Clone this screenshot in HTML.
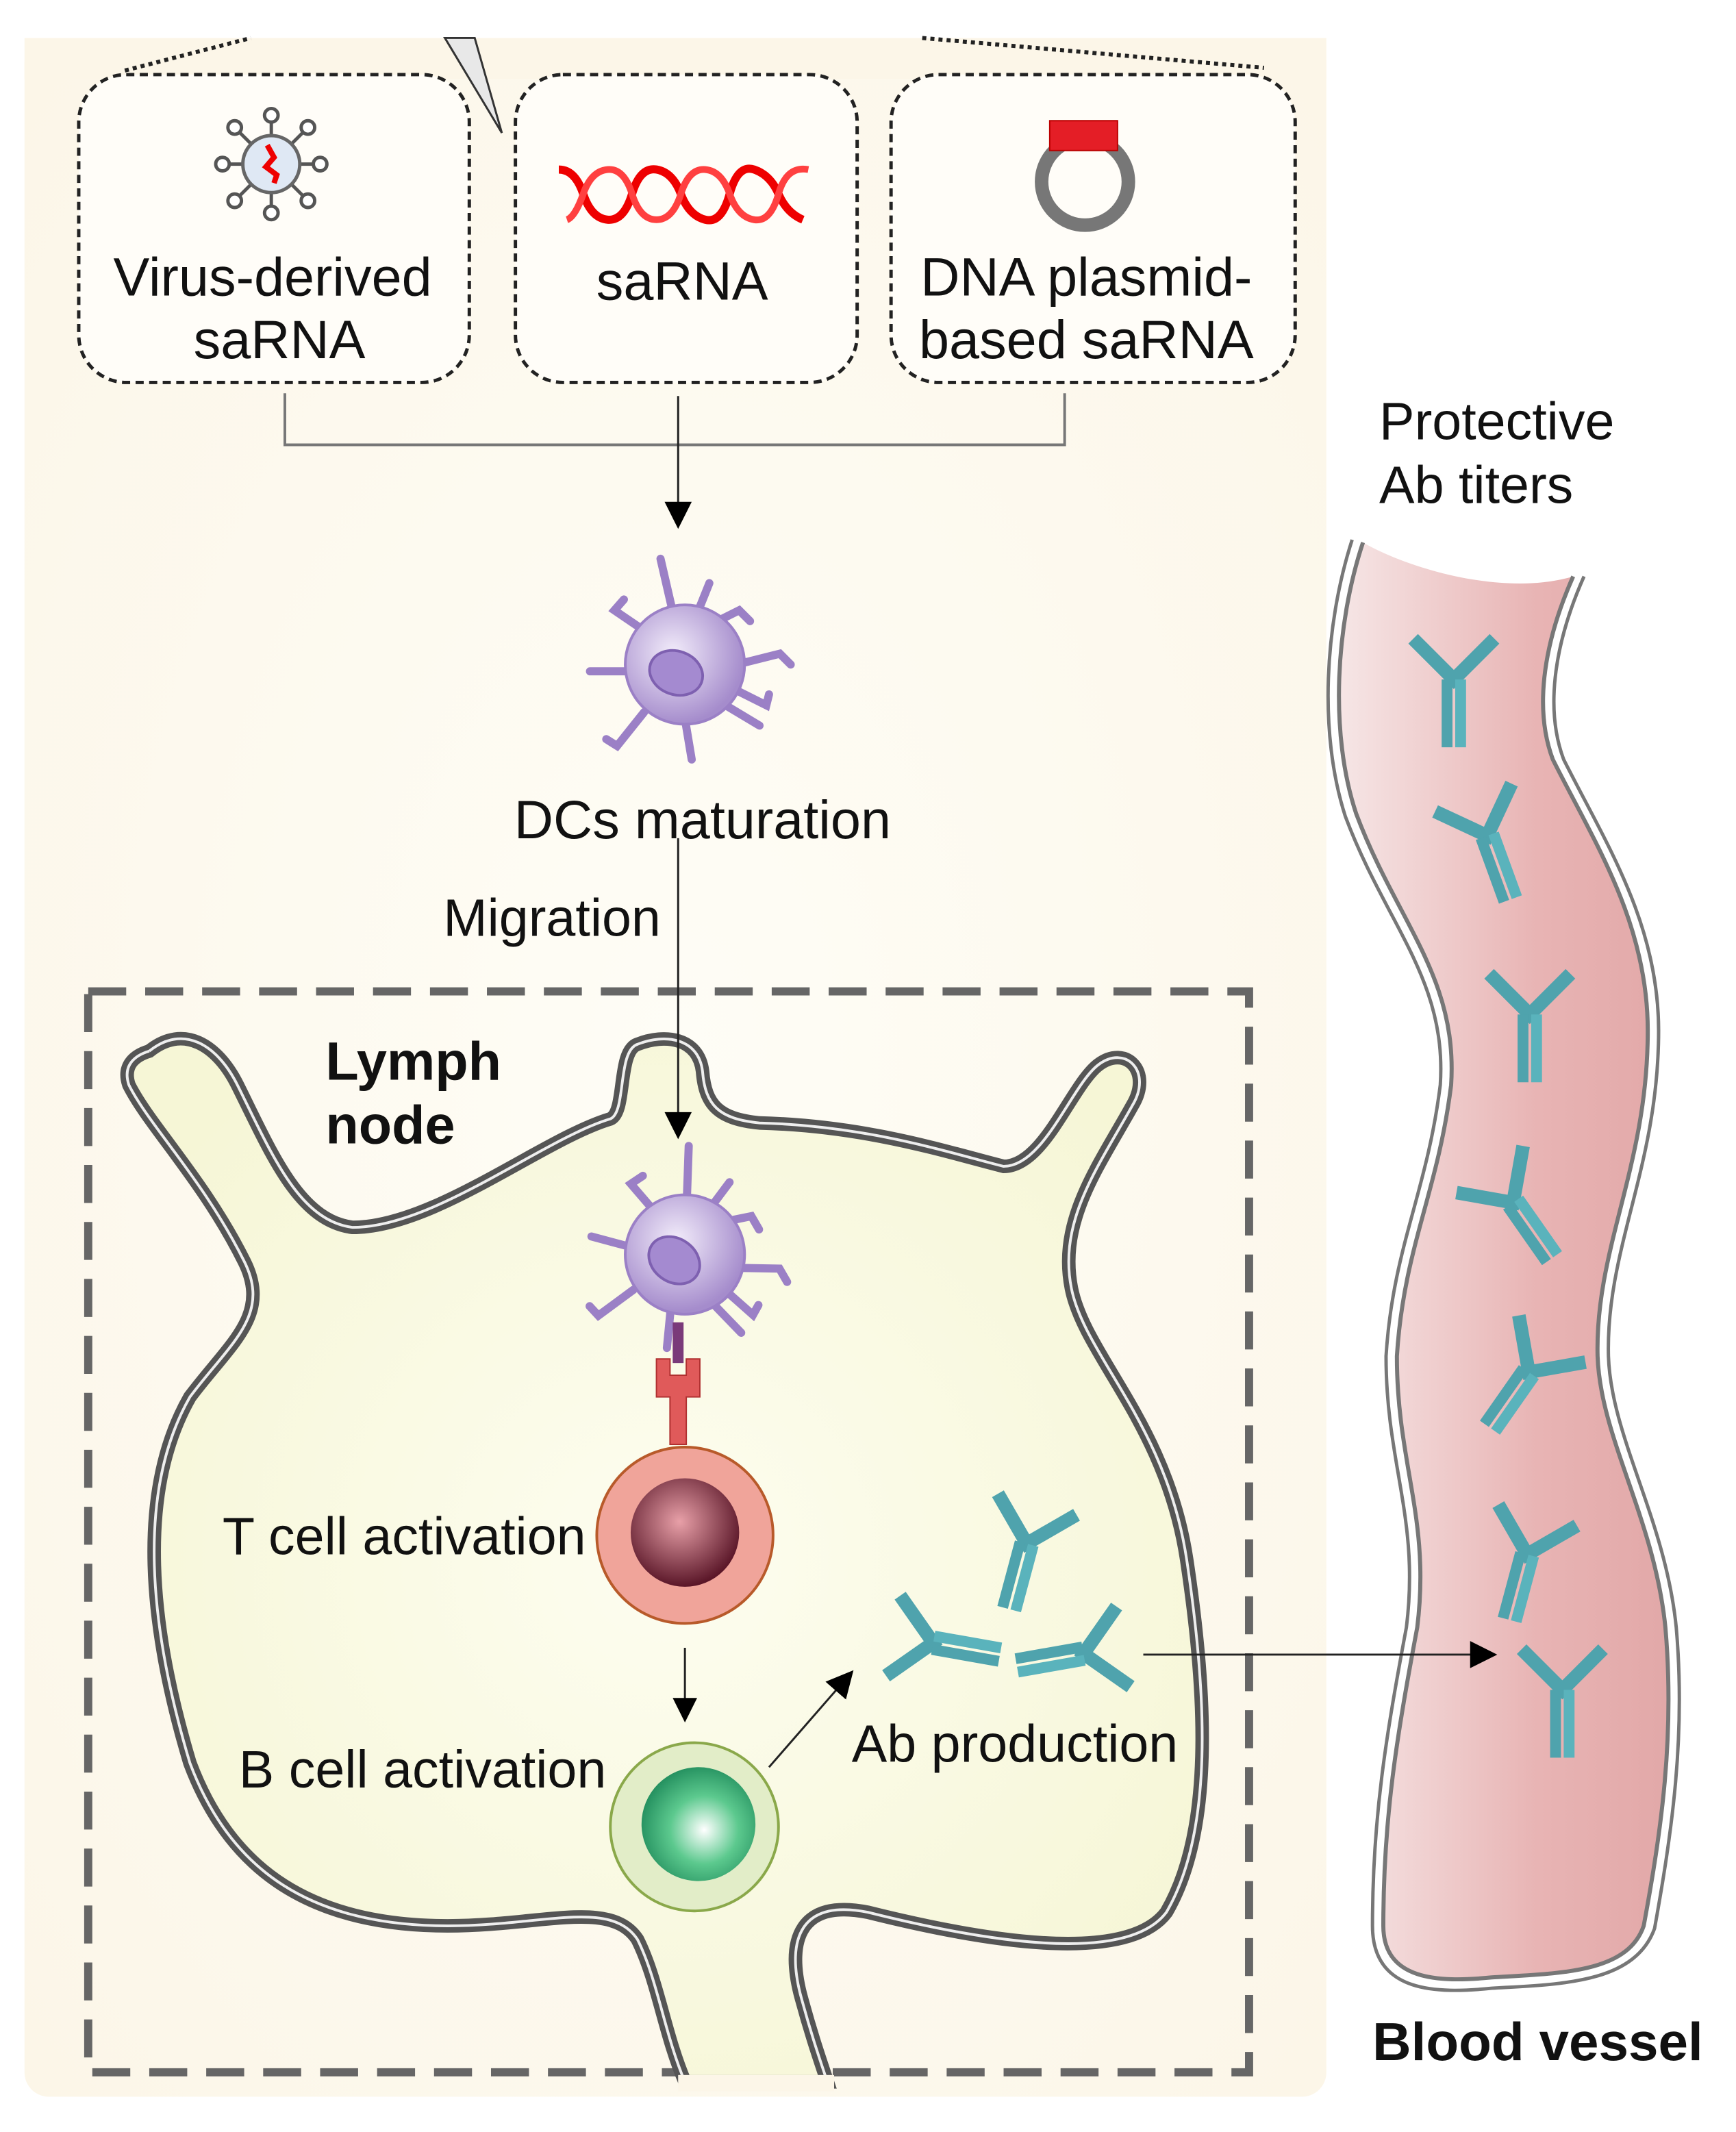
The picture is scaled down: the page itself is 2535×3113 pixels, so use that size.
<!DOCTYPE html>
<html><head><meta charset="utf-8"><style>
html,body{margin:0;padding:0;background:#fff;}
svg{display:block;}
text{font-family:"Liberation Sans",Arial,sans-serif;fill:#111;}
</style></head><body>
<svg width="2535" height="3113" viewBox="0 0 1280 1572" xmlns="http://www.w3.org/2000/svg">
<defs>
<radialGradient id="bg" cx="0.5" cy="0.5" r="0.7"><stop offset="0" stop-color="#fefdf6"/><stop offset="1" stop-color="#fcf6e8"/></radialGradient>
<linearGradient id="vess" x1="0" y1="0" x2="1" y2="0"><stop offset="0" stop-color="#f6e6e6"/><stop offset="0.6" stop-color="#e8b4b4"/><stop offset="1" stop-color="#e2a8a8"/></linearGradient>
<radialGradient id="dc" cx="0.4" cy="0.4" r="0.6"><stop offset="0" stop-color="#f2ecfa"/><stop offset="1" stop-color="#a58ccc"/></radialGradient>
<radialGradient id="tin" cx="0.45" cy="0.4" r="0.6"><stop offset="0" stop-color="#e8a0a8"/><stop offset="1" stop-color="#5a1628"/></radialGradient>
<radialGradient id="bin" cx="0.55" cy="0.55" r="0.6"><stop offset="0" stop-color="#ffffff"/><stop offset="0.5" stop-color="#5cc98e"/><stop offset="1" stop-color="#1e8a5a"/></radialGradient>
<radialGradient id="ln" cx="0.5" cy="0.5" r="0.6"><stop offset="0" stop-color="#fdfdf0"/><stop offset="1" stop-color="#f6f6d6"/></radialGradient>
<marker id="ar" markerWidth="10" markerHeight="10" refX="9" refY="5" orient="auto" markerUnits="userSpaceOnUse"><path d="M0,0 L10,5 L0,10Z" fill="#000"/></marker>
<marker id="ar2" markerWidth="20" markerHeight="20" refX="18" refY="10" orient="auto" markerUnits="userSpaceOnUse"><path d="M0,0 L20,10 L0,20Z" fill="#000"/></marker>
<g id="ab">
  <path d="M-30,-34 L0,-4 L30,-34" fill="none" stroke="#4fa3ad" stroke-width="10" stroke-linejoin="miter"/>
  <rect x="-9" y="-4" width="8" height="50" fill="#4fa3ad"/>
  <rect x="1" y="-4" width="8" height="50" fill="#5ab3bc"/>
</g>
<g id="dcell">
  <g stroke="#9b80c6" stroke-width="6" stroke-linecap="round" fill="none">
    <path d="M0,0 L-18,-78"/><path d="M20,-30 L40,-40 L48,-32"/><path d="M38,0 L70,-8 L78,0"/>
    <path d="M30,30 L55,45"/><path d="M0,40 L5,70"/><path d="M-30,35 L-50,60 L-58,55"/>
    <path d="M-40,5 L-70,5"/><path d="M-30,-25 L-52,-40 L-45,-48"/><path d="M10,-40 L18,-60"/>
    <path d="M40,20 L60,30 L62,22"/>
  </g>
  <circle r="44" fill="url(#dc)" stroke="#9b80c6" stroke-width="2"/>
  <ellipse cx="-4" cy="8" rx="20" ry="16" transform="rotate(20)" fill="#a48ad0" stroke="#7e60b0" stroke-width="2"/>
</g>
</defs>

<rect x="18" y="28" width="960" height="1518" rx="18" fill="url(#bg)"/>
<rect x="18" y="28" width="960" height="30" fill="#fcf6e8"/>

<path d="M92,52 L185,28" stroke="#222" stroke-width="3" stroke-dasharray="3 3"/>
<path d="M680,28 L932,50" stroke="#222" stroke-width="3" stroke-dasharray="3 3"/>
<polygon points="328,28 350,28 370,98" fill="#e8e8e8" stroke="#333" stroke-width="1.5"/>

<g fill="#fffdf8" stroke="#222" stroke-width="2.5" stroke-dasharray="6 4">
<rect x="58" y="55" width="288" height="227" rx="35"/>
<rect x="380" y="55" width="252" height="227" rx="35"/>
<rect x="657" y="55" width="298" height="227" rx="35"/>
</g>
<g transform="translate(200,121)" stroke="#555" stroke-width="2.5" fill="none">
  <line x1="0" y1="-20" x2="0" y2="-32"/><line x1="0" y1="20" x2="0" y2="32"/>
  <line x1="-20" y1="0" x2="-32" y2="0"/><line x1="20" y1="0" x2="32" y2="0"/>
  <line x1="14" y1="14" x2="24" y2="24"/><line x1="-14" y1="14" x2="-24" y2="24"/>
  <line x1="14" y1="-14" x2="24" y2="-24"/><line x1="-14" y1="-14" x2="-24" y2="-24"/>
  <circle r="21" fill="#dfe8f4" stroke="#666"/>
  <circle cx="0" cy="-36" r="5" fill="#fff"/><circle cx="0" cy="36" r="5" fill="#fff"/>
  <circle cx="-36" cy="0" r="5" fill="#fff"/><circle cx="36" cy="0" r="5" fill="#fff"/>
  <circle cx="27" cy="27" r="5" fill="#fff"/><circle cx="-27" cy="27" r="5" fill="#fff"/>
  <circle cx="27" cy="-27" r="5" fill="#fff"/><circle cx="-27" cy="-27" r="5" fill="#fff"/>
  <path d="M-3,-14 L2,-5 L-4,2 L4,8 L2,14" stroke="#e00" stroke-width="4"/>
</g>
<g fill="none" stroke="#e00" stroke-width="6">
<path d="M412,125 Q424,125 430,143 T448,162 T466,143 T484,125 T502,143 T520,162 T538,143 T556,125 T574,143 T592,162"/>
<path d="M418,162 Q424,160 430,143 T448,125 T466,143 T484,162 T502,143 T520,125 T538,143 T556,162 T574,143 T596,125" stroke="#ff4040" stroke-width="5"/>
</g>
<circle cx="800" cy="134" r="32" fill="none" stroke="#777" stroke-width="10"/>
<rect x="774" y="89" width="50" height="22" fill="#e41e26" stroke="#b00" stroke-width="1"/>

<g font-size="40" text-anchor="middle">
<text x="201" y="218">Virus-derived</text>
<text x="206" y="264">saRNA</text>
<text x="503" y="221">saRNA</text>
<text x="801" y="218">DNA plasmid-</text>
<text x="801" y="264">based saRNA</text>
</g>

<path d="M210,290 V328 H785 V290" fill="none" stroke="#777" stroke-width="2"/>
<path d="M500,292 V372" stroke="#222" stroke-width="1.5"/>
<path d="M490,370 L510,370 L500,390Z" fill="#000"/>

<use href="#dcell" transform="translate(505,490)"/>
<text x="518" y="618" font-size="40" text-anchor="middle">DCs maturation</text>
<text x="407" y="690" font-size="39" text-anchor="middle">Migration</text>

<rect x="65" y="731" width="856" height="797" fill="none" stroke="#666" stroke-width="6" stroke-dasharray="28 14"/>

<path d="M110,775 C135,755 160,770 175,800 C200,850 220,900 260,905 C320,905 400,840 450,825 C462,820 455,775 470,770 C490,762 515,765 518,790 C520,815 530,825 560,828 C640,830 700,850 740,860 C770,860 790,800 810,785 C830,770 850,790 835,815 C810,860 780,900 790,950 C800,1000 860,1050 875,1150 C890,1250 895,1350 860,1410 C830,1450 720,1430 640,1410 C590,1400 580,1430 590,1470 C598,1500 605,1520 610,1535 L505,1535 C490,1500 485,1460 470,1430 C450,1400 400,1420 330,1420 C230,1420 170,1380 140,1300 C110,1200 100,1100 140,1030 C170,990 200,970 180,930 C150,870 110,830 95,800 C90,785 100,778 110,775 Z" fill="url(#ln)" stroke="#555" stroke-width="10"/>
<path d="M110,775 C135,755 160,770 175,800 C200,850 220,900 260,905 C320,905 400,840 450,825 C462,820 455,775 470,770 C490,762 515,765 518,790 C520,815 530,825 560,828 C640,830 700,850 740,860 C770,860 790,800 810,785 C830,770 850,790 835,815 C810,860 780,900 790,950 C800,1000 860,1050 875,1150 C890,1250 895,1350 860,1410 C830,1450 720,1430 640,1410 C590,1400 580,1430 590,1470 C598,1500 605,1520 610,1535 M505,1535 C490,1500 485,1460 470,1430 C450,1400 400,1420 330,1420 C230,1420 170,1380 140,1300 C110,1200 100,1100 140,1030 C170,990 200,970 180,930 C150,870 110,830 95,800 C90,785 100,778 110,775" fill="none" stroke="#eee" stroke-width="2"/>
<rect x="500" y="1530" width="115" height="12" fill="#fcf6e8"/>

<text x="240" y="796" font-size="40" font-weight="bold">Lymph</text>
<text x="240" y="843" font-size="40" font-weight="bold">node</text>

<path d="M500,618 V822" stroke="#222" stroke-width="1.5"/>
<path d="M490,820 L510,820 L500,840Z" fill="#000"/>

<use href="#dcell" transform="translate(505,925) rotate(15)"/>
<rect x="496" y="975" width="8" height="30" fill="#7a3a7a"/>
<path d="M484,1002 h10 v12 h12 v-12 h10 v28 h-10 v35 h-12 v-35 h-10z" fill="#e05a5a" stroke="#b03030" stroke-width="1"/>

<circle cx="505" cy="1132" r="65" fill="#f0a49a" stroke="#b85a2a" stroke-width="2"/>
<circle cx="505" cy="1130" r="40" fill="url(#tin)"/>
<text x="432" y="1146" font-size="39" text-anchor="end">T cell activation</text>

<path d="M505,1215 V1255" stroke="#222" stroke-width="1.5"/>
<path d="M496,1252 L514,1252 L505,1270Z" fill="#000"/>

<circle cx="512" cy="1347" r="62" fill="#e2edc8" stroke="#8aa84a" stroke-width="2"/>
<circle cx="515" cy="1345" r="42" fill="url(#bin)"/>
<text x="447" y="1318" font-size="39" text-anchor="end">B cell activation</text>

<line x1="567" y1="1303" x2="628" y2="1233" stroke="#222" stroke-width="1.5" marker-end="url(#ar2)"/>

<use href="#ab" transform="translate(756,1142) rotate(15) scale(1)"/>
<use href="#ab" transform="translate(692,1212) rotate(-80)"/>
<use href="#ab" transform="translate(795,1220) rotate(80)"/>
<text x="628" y="1299" font-size="39">Ab production</text>

<path d="M1005,400 C985,460 980,540 1000,600 C1030,680 1075,720 1070,800 C1060,880 1035,920 1030,1000 C1030,1080 1055,1120 1045,1200 C1030,1280 1020,1340 1020,1420 C1020,1460 1060,1462 1100,1458 C1150,1455 1200,1455 1212,1420 C1225,1350 1235,1280 1228,1200 C1220,1120 1180,1060 1178,1000 C1176,920 1215,860 1215,760 C1215,680 1175,620 1145,560 C1130,520 1140,470 1160,425 C1110,440 1040,420 1005,400 Z" fill="url(#vess)"/>
<g fill="none" stroke="#777" stroke-width="3">
<path d="M1005,400 C985,460 980,540 1000,600 C1030,680 1075,720 1070,800 C1060,880 1035,920 1030,1000 C1030,1080 1055,1120 1045,1200 C1030,1280 1020,1340 1020,1420 C1020,1460 1060,1462 1100,1458 C1150,1455 1200,1455 1212,1420 C1225,1350 1235,1280 1228,1200 C1220,1120 1180,1060 1178,1000 C1176,920 1215,860 1215,760 C1215,680 1175,620 1145,560 C1130,520 1140,470 1160,425"/>
<path d="M997,398 C977,460 972,540 992,602 C1022,682 1067,722 1062,800 C1052,880 1027,920 1022,1000 C1022,1080 1047,1120 1037,1200 C1022,1280 1012,1340 1012,1420 C1012,1470 1060,1470 1100,1466 C1150,1463 1205,1463 1220,1422 C1233,1350 1243,1280 1236,1200 C1228,1120 1188,1060 1186,1000 C1184,920 1223,860 1223,760 C1223,680 1183,620 1153,560 C1138,520 1148,470 1168,425" stroke-width="2.5"/>
</g>
<use href="#ab" transform="translate(1072,505)"/>
<use href="#ab" transform="translate(1098,620) rotate(-20)"/>
<use href="#ab" transform="translate(1128,752)"/>
<use href="#ab" transform="translate(1118,890) rotate(-35)"/>
<use href="#ab" transform="translate(1125,1015) rotate(35)"/>
<use href="#ab" transform="translate(1125,1150) rotate(15)"/>
<use href="#ab" transform="translate(1152,1250)"/>

<line x1="843" y1="1220" x2="1102" y2="1220" stroke="#222" stroke-width="1.5" marker-end="url(#ar2)"/>

<text x="1017" y="324" font-size="39">Protective</text>
<text x="1017" y="371" font-size="39">Ab titers</text>
<text x="1012" y="1519" font-size="39.5" font-weight="bold">Blood vessel</text>
</svg>
</body></html>
